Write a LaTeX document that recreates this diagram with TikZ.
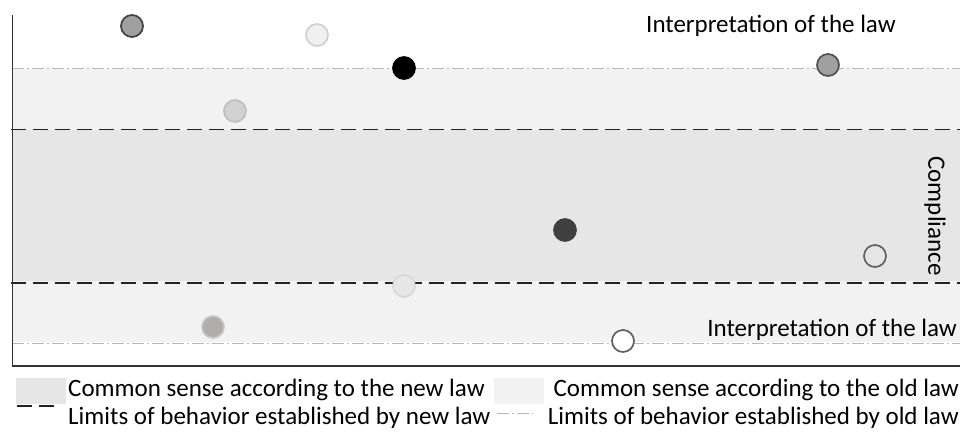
\documentclass[tikz,border=0pt]{standalone}
\usepackage{fontspec}
\setmainfont{Carlito}
\usetikzlibrary{positioning}
\definecolor{bandNew}{HTML}{E6E6E6}
\definecolor{bandOld}{HTML}{F2F2F2}
\definecolor{limitNew}{HTML}{222222}
\definecolor{limitOld}{HTML}{B8B8B8}
\definecolor{axisGray}{HTML}{333333}
\definecolor{dotA}{HTML}{A0A0A0}
\definecolor{dotB}{HTML}{F0F0F0}
\definecolor{dotC}{HTML}{D2D2D2}
\definecolor{dotD}{HTML}{404040}
\definecolor{dotE}{HTML}{B0ADAD}
\definecolor{rimA}{HTML}{404040}
\definecolor{rimB}{HTML}{D0D0D0}
\definecolor{rimC}{HTML}{C0C0C0}
\definecolor{rimD}{HTML}{505050}
\definecolor{rimE}{HTML}{606060}
\definecolor{rimF}{HTML}{D8D8D8}
\definecolor{rimG}{HTML}{C8C8C8}

\tikzset{
  newlimit/.style={limitNew,line width=1.7pt,dash pattern=on 15pt off 7pt},
  oldlimit/.style={limitOld,line width=1pt,dash pattern=on 12pt off 3pt on 2pt off 3pt},
  dot/.style={circle,minimum size=22pt,inner sep=0pt,line width=1.7pt},
  lawlabel/.style={font=\fontsize{25}{30}\selectfont,inner sep=0pt},
  swatch/.style={minimum width=50pt,minimum height=26pt,inner sep=0pt,anchor=north west},
}

\begin{document}
\begin{tikzpicture}[x=1pt,y=-1pt]
  \useasboundingbox (0,0) rectangle (960,432);
  % bands
  \fill[bandOld] (12,69) rectangle (960,342);
  \fill[bandNew] (12,130) rectangle (960,281);
  % limits
  \draw[oldlimit] (12,68) -- (960,68);
  \draw[oldlimit] (12,343) -- (960,343);
  \draw[newlimit] (11,129.5) -- (960,129.5);
  \draw[newlimit] (11,283) -- (960,283);
  % axes
  \draw[axisGray,line width=1.2pt] (12.5,15) -- (12.5,366) -- (960,366);
  % behaviours
  \foreach \name/\x/\y/\f/\s in {c1/132/26/dotA/rimA, c2/317/35/dotB/rimB,
      c3/404/68/black/black, c4/235/111/dotC/rimC, c5/828/65/dotA/rimD,
      c6/565/230/dotD/dotD, c7/875/256/bandNew/rimE, c8/404/286/bandNew/rimF,
      c9/213/327/dotE/rimG, c10/623/341/white/rimE}{
    \node[dot,fill=\f,draw=\s] (\name) at (\x,\y) {};
  }
  \node[lawlabel,anchor=base west] (lawtop) at (646,32) {Interpretation of the law};
  \node[lawlabel,anchor=base east] (lawbot) at (957,336) {Interpretation of the law};
  \node[lawlabel,rotate=-90] (compl) at (935,216) {Compliance};
  % legend
  \node[swatch,fill=bandNew] (keynew) at (16,378) {};
  \node[lawlabel,anchor=base west] (keynewtxt) at (68,396) {Common sense according to the new law};
  \node[swatch,fill=bandOld] (keyold) at (494,378) {};
  \node[lawlabel,anchor=base east] (keyoldtxt) at (959,396) {Common sense according to the old law};
  \coordinate (limnewA) at (17,406);
  \coordinate (limnewB) at (56,406);
  \draw[newlimit,dash pattern=on 15pt off 7pt] (limnewA) -- (limnewB);
  \node[lawlabel,anchor=base west] (limnewtxt) at (68,424) {Limits of behavior established by new law};
  \coordinate (limoldA) at (497,413);
  \coordinate (limoldB) at (533,413);
  \draw[oldlimit] (limoldA) -- (limoldB);
  \node[lawlabel,anchor=base east] (limoldtxt) at (959,424) {Limits of behavior established by old law};
\end{tikzpicture}
\end{document}
